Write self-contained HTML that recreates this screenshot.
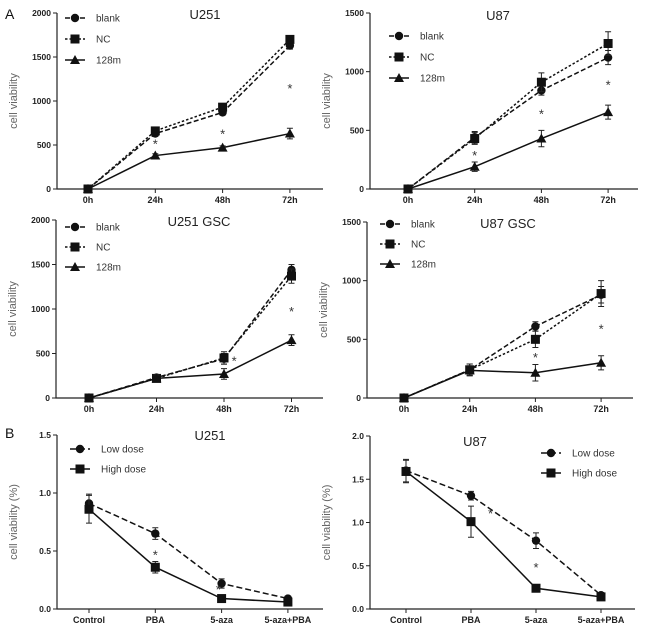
<!DOCTYPE html>
<html><head><meta charset="utf-8"><style>
html,body{margin:0;padding:0;background:#fff;}
svg{display:block;font-family:"Liberation Sans",Arial,sans-serif;}
</style></head><body>
<svg id="fig" width="650" height="631" viewBox="0 0 650 631" xmlns="http://www.w3.org/2000/svg">
<text x="5" y="19" font-size="14" fill="#111">A</text>
<text x="5" y="438" font-size="14" fill="#111">B</text>
</svg>
<script>
// ---- data ----
const timeCats = ["0h","24h","48h","72h"];
const doseCats = ["Control","PBA","5-aza","5-aza+PBA"];

const u251Blank = [0,630,870,1630];
const u251NC = [0,660,930,1700];
const u251M = [0,380,470,630];
const u251BlankErr = [0,30,30,40];
const u251NCErr = [0,30,40,40];
const u251MErr = [0,20,20,60];
const u251Ticks = [0,500,1000,1500,2000];
const u251Stars = [[1,530],[2,640],[3,1160]];

const u87Blank = [0,440,840,1120];
const u87NC = [0,430,910,1240];
const u87M = [0,190,430,655];
const u87BlankErr = [0,50,40,60];
const u87NCErr = [0,50,80,100];
const u87MErr = [0,40,70,60];
const u87Ticks = [0,500,1000,1500];
const u87Stars = [[1,300],[2,650],[3,900]];

const u251gBlank = [0,230,440,1440];
const u251gNC = [0,220,450,1370];
const u251gM = [0,220,270,650];
const u251gBlankErr = [0,30,60,60];
const u251gNCErr = [0,40,70,80];
const u251gMErr = [0,40,60,60];
const u251gTicks = [0,500,1000,1500,2000];
const u251gStars = [[2.15,430],[3,990]];

const u87gBlank = [0,240,610,880];
const u87gNC = [0,240,500,890];
const u87gM = [0,235,215,300];
const u87gBlankErr = [0,50,40,70];
const u87gNCErr = [0,50,70,110];
const u87gMErr = [0,40,70,60];
const u87gTicks = [0,500,1000,1500];
const u87gStars = [[2,360],[3,600]];

const bU251Low = [0.91,0.65,0.22,0.09];
const bU251High = [0.86,0.36,0.09,0.06];
const bU251LowErr = [0.08,0.05,0.04,0.02];
const bU251HighErr = [0.12,0.05,0.02,0.02];
const bU251Ticks = [0,0.5,1.0,1.5];
const bU251Stars = [[1,0.48],[1.95,0.18]];

const bU87Low = [1.60,1.31,0.79,0.16];
const bU87High = [1.59,1.01,0.24,0.14];
const bU87LowErr = [0.13,0.05,0.09,0.03];
const bU87HighErr = [0.13,0.18,0.02,0.02];
const bU87Ticks = [0,0.5,1.0,1.5,2.0];
const bU87Stars = [[1.3,1.12],[2,0.5]];

const svg = document.getElementById('fig');
const NS = "http://www.w3.org/2000/svg";
function mk(tag, attrs, parent){
  const e = document.createElementNS(NS, tag);
  for (const k in attrs) e.setAttribute(k, attrs[k]);
  (parent||svg).appendChild(e);
  return e;
}
function marker(g, shape, x, y){
  let m;
  if (shape==='circle') m = mk('circle',{cx:x,cy:y,r:4.2,fill:'#111'},g);
  else if (shape==='square') m = mk('rect',{x:x-4.5,y:y-4.5,width:9,height:9,fill:'#111'},g);
  else m = mk('polygon',{points:`${x},${y-5} ${x-5},${y+4} ${x+5},${y+4}`,fill:'#111'},g);
  return m;
}
function panel(cfg){
  const g = mk('g',{});
  
  
  const ymax = cfg.ticks[cfg.ticks.length-1];
  const ys = v => cfg.y0 - (v/ymax)*(cfg.y0-cfg.yTop);
  const xs = i => cfg.xFirst + i*cfg.xStep;
  const ax = mk('path',{d:`M${cfg.ax},${cfg.yTop} L${cfg.ax},${cfg.y0} L${cfg.xEnd},${cfg.y0}`,stroke:'#222','stroke-width':1.2,fill:'none'},g);
  
  
  cfg.ticks.forEach(t=>{
    const y = ys(t);
    mk('line',{x1:cfg.ax-4,y1:y,x2:cfg.ax,y2:y,stroke:'#222','stroke-width':1},g);
    const tl = mk('text',{x:cfg.ax-6,y:y+3,'font-size':8.5,'font-weight':'bold','text-anchor':'end',fill:'#222'},g);
    tl.textContent = cfg.fmt ? t.toFixed(1) : t;
    
    
  });
  cfg.cats.forEach((c,i)=>{
    const x = xs(i);
    mk('line',{x1:x,y1:cfg.y0,x2:x,y2:cfg.y0+4,stroke:'#222','stroke-width':1},g);
    const tl = mk('text',{x:x,y:cfg.y0+14,'font-size':9,'font-weight':'bold','text-anchor':'middle',fill:'#222'},g);
    tl.textContent = c;
    
    
  });
  const yt = mk('text',{transform:`translate(${cfg.ax-40},${(cfg.yTop+cfg.y0)/2}) rotate(-90)`,'font-size':11,'text-anchor':'middle',fill:'#666'},g);
  yt.textContent = cfg.ytitle;
  
  
  const tt = mk('text',{x:cfg.titleX,y:cfg.titleY,'font-size':13,'text-anchor':'middle',fill:'#222'},g);
  tt.textContent = cfg.title;
  
  
  cfg.series.forEach(s=>{
    const sg = mk('g',{},g);
    
    
    const d = s.vals.map((v,i)=>(i?'L':'M')+xs(i)+','+ys(v)).join(' ');
    const ln = mk('path',{d:d,stroke:'#111','stroke-width':1.5,fill:'none','stroke-dasharray':s.dash},sg);
    
    
    s.vals.forEach((v,i)=>{
      const e = s.err[i];
      if (e>0){
        const x=xs(i), y1=ys(v+e), y2=ys(v-e);
        mk('path',{d:`M${x},${y1} L${x},${y2} M${x-3},${y1} L${x+3},${y1} M${x-3},${y2} L${x+3},${y2}`,stroke:'#222','stroke-width':1},sg);
      }
      const m = marker(sg, s.shape, xs(i), ys(v));
      
      
    });
  });
  cfg.stars.forEach(st=>{
    const t = mk('text',{x:xs(st[0]),y:ys(st[1])+6,'font-size':13,'text-anchor':'middle',fill:'#333'},g);
    t.textContent='*';
    
    
  });
  cfg.series.forEach((s,i)=>{
    const ly = cfg.legY + i*cfg.legDy;
    const lg = mk('g',{},g);
    
    
    mk('line',{x1:cfg.legX,y1:ly,x2:cfg.legX+20,y2:ly,stroke:'#111','stroke-width':1.5,'stroke-dasharray':s.dash},lg);
    marker(lg, s.shape, cfg.legX+10, ly);
    const lt = mk('text',{x:cfg.legX+31,y:ly+3.5,'font-size':10,fill:'#333'},lg);
    lt.textContent = s.label;
  });
}
const dBlank='5,2.5', dNC='2.5,2', dLow='6,3';
panel({name:'chart-u251',title:'U251',titleX:205,titleY:19,ax:57,yTop:13,y0:189,xFirst:88,xStep:67.3,xEnd:323,
  ticks:u251Ticks,cats:timeCats,ytitle:'cell viability',stars:u251Stars,legX:65,legY:18,legDy:21,
  series:[{label:'blank',vals:u251Blank,err:u251BlankErr,shape:'circle',dash:dBlank},
          {label:'NC',vals:u251NC,err:u251NCErr,shape:'square',dash:dNC},
          {label:'128m',vals:u251M,err:u251MErr,shape:'triangle',dash:''}]});
panel({name:'chart-u87',title:'U87',titleX:498,titleY:20,ax:370,yTop:13,y0:189,xFirst:408,xStep:66.7,xEnd:638,
  ticks:u87Ticks,cats:timeCats,ytitle:'cell viability',stars:u87Stars,legX:389,legY:36,legDy:21,
  series:[{label:'blank',vals:u87Blank,err:u87BlankErr,shape:'circle',dash:dBlank},
          {label:'NC',vals:u87NC,err:u87NCErr,shape:'square',dash:dNC},
          {label:'128m',vals:u87M,err:u87MErr,shape:'triangle',dash:''}]});
panel({name:'chart-u251-gsc',title:'U251 GSC',titleX:199,titleY:226,ax:56,yTop:220,y0:398,xFirst:89,xStep:67.5,xEnd:323,
  ticks:u251gTicks,cats:timeCats,ytitle:'cell viability',stars:u251gStars,legX:65,legY:227,legDy:20,
  series:[{label:'blank',vals:u251gBlank,err:u251gBlankErr,shape:'circle',dash:dBlank},
          {label:'NC',vals:u251gNC,err:u251gNCErr,shape:'square',dash:dNC},
          {label:'128m',vals:u251gM,err:u251gMErr,shape:'triangle',dash:''}]});
panel({name:'chart-u87-gsc',title:'U87 GSC',titleX:508,titleY:228,ax:367,yTop:222,y0:398,xFirst:404,xStep:65.7,xEnd:633,
  ticks:u87gTicks,cats:timeCats,ytitle:'cell viability',stars:u87gStars,legX:380,legY:224,legDy:20,
  series:[{label:'blank',vals:u87gBlank,err:u87gBlankErr,shape:'circle',dash:dBlank},
          {label:'NC',vals:u87gNC,err:u87gNCErr,shape:'square',dash:dNC},
          {label:'128m',vals:u87gM,err:u87gMErr,shape:'triangle',dash:''}]});
panel({name:'chart-b-u251',title:'U251',titleX:210,titleY:440,ax:57,yTop:435,y0:609,xFirst:89,xStep:66.3,xEnd:323,fmt:true,
  ticks:bU251Ticks,cats:doseCats,ytitle:'cell viability (%)',stars:bU251Stars,legX:70,legY:449,legDy:20,
  series:[{label:'Low  dose',vals:bU251Low,err:bU251LowErr,shape:'circle',dash:dLow},
          {label:'High dose',vals:bU251High,err:bU251HighErr,shape:'square',dash:''}]});
panel({name:'chart-b-u87',title:'U87',titleX:475,titleY:446,ax:370,yTop:436,y0:609,xFirst:406,xStep:65,xEnd:635,fmt:true,
  ticks:bU87Ticks,cats:doseCats,ytitle:'cell viability (%)',stars:bU87Stars,legX:541,legY:453,legDy:20,
  series:[{label:'Low  dose',vals:bU87Low,err:bU87LowErr,shape:'circle',dash:dLow},
          {label:'High dose',vals:bU87High,err:bU87HighErr,shape:'square',dash:''}]});
</script>
</body></html>
